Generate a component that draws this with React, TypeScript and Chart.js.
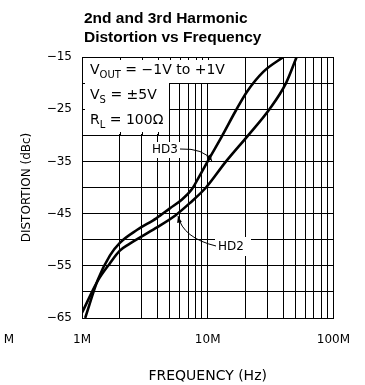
import { useEffect, useRef } from "react";
import { Chart, registerables } from "chart.js";

Chart.register(...registerables);

const TITLE_LINES = ["2nd and 3rd Harmonic", "Distortion vs Frequency"];
const X_TITLE = "FREQUENCY (Hz)";
const Y_TITLE = "DISTORTION (dBc)";

// HD3 series (frequency Hz, distortion dBc)
const HD3_FREQ = [1.06e6, 1.34e6, 1.67e6, 2e6, 2.75e6, 3.9e6, 5e6, 6.25e6, 7.5e6, 8.6e6, 10.2e6, 12.9e6, 16.8e6, 20.6e6, 27.8e6, 40e6];
const HD3_DB = [-65, -57.6, -53, -50.6, -48.1, -45.9, -44, -42.3, -40.3, -37.8, -34.6, -30.3, -25.2, -21.6, -17.8, -15];

// HD2 series
const HD2_FREQ = [1e6, 1.34e6, 1.67e6, 2e6, 2.32e6, 3.85e6, 5.56e6, 7.2e6, 9.7e6, 14e6, 21e6, 31e6, 42e6, 51e6];
const HD2_DB = [-64, -57.8, -54.5, -52.1, -51, -47.8, -45.3, -43, -40, -35, -30, -25, -20, -15];

const X_TICKS = [
  1e6, 2e6, 3e6, 4e6, 5e6, 6e6, 7e6, 8e6, 9e6,
  1e7, 2e7, 3e7, 4e7, 5e7, 6e7, 7e7, 8e7, 9e7,
  1e8,
];
const X_TICK_LABELS: Record<string, string> = { "1000000": "1M", "10000000": "10M", "100000000": "100M" };
const Y_TICK_LABELS: Record<string, string> = {
  "-15": "\u221215",
  "-25": "\u221225",
  "-35": "\u221235",
  "-45": "\u221245",
  "-55": "\u221255",
  "-65": "\u221265",
};

const COND_LINES: [string, string, string][] = [
  ["V", "OUT", " = \u22121V to +1V"],
  ["V", "S", " = \u00b15V"],
  ["R", "L", " = 100\u03a9"],
];

const FONT = "'DejaVu Sans', sans-serif";

const overlay = {
  id: "overlay",
  beforeDatasetsDraw(chart: any) {
    const { ctx, scales } = chart;
    const x = scales.x;
    const y = scales.y;
    const top = chart.chartArea.top;
    const left = x.getPixelForValue(1e6);
    ctx.save();
    ctx.fillStyle = "#ffffff";
    const y20 = Math.round(y.getPixelForValue(-20));
    const y30 = Math.round(y.getPixelForValue(-30));
    const x20M = Math.round(x.getPixelForValue(2e7));
    const x5M = Math.round(x.getPixelForValue(5e6));
    ctx.fillRect(left + 1, top + 1, x20M - left - 2, y20 - top - 1);
    ctx.fillRect(left + 1, y20 - 1, x5M - left - 2, y30 - y20);
    ctx.fillRect(150, 142, 31, 16);
    ctx.fillRect(215, 237, 36, 19);
    ctx.strokeStyle = "#000";
    ctx.lineWidth = 1;
    ctx.beginPath();
    [2e6, 3e6, 4e6, 5e6, 6e6, 7e6, 8e6, 9e6, 1e7].forEach((v) => {
      const px = Math.round(x.getPixelForValue(v)) + 0.5;
      ctx.moveTo(px, top);
      ctx.lineTo(px, top + 3);
    });
    [2e6, 3e6, 4e6].forEach((v) => {
      const px = Math.round(x.getPixelForValue(v)) + 0.5;
      ctx.moveTo(px, y30);
      ctx.lineTo(px, y30 - 3);
    });
    [-20, -25].forEach((v) => {
      const py = Math.round(y.getPixelForValue(v)) + 0.5;
      ctx.moveTo(left, py);
      ctx.lineTo(left + 3, py);
    });
    ctx.stroke();
    ctx.fillStyle = "#000";
    ctx.textBaseline = "alphabetic";
    ctx.textAlign = "left";
    const baselines = [74, 99, 124];
    COND_LINES.forEach(([main, sub, rest], i) => {
      let cx = 90;
      const by = baselines[i];
      ctx.font = `14px ${FONT}`;
      ctx.fillText(main, cx, by);
      cx += ctx.measureText(main).width;
      ctx.font = `10px ${FONT}`;
      ctx.fillText(sub, cx, by + 4);
      cx += ctx.measureText(sub).width;
      ctx.font = `14px ${FONT}`;
      ctx.fillText(rest, cx, by);
    });
    ctx.font = `12px ${FONT}`;
    ctx.textBaseline = "middle";
    ctx.fillText("HD3", 152, 150);
    ctx.fillText("HD2", 218, 247);
    const arrow = (sx: number, sy: number, cx1: number, cy1: number, ex: number, ey: number) => {
      ctx.beginPath();
      ctx.moveTo(sx, sy);
      ctx.quadraticCurveTo(cx1, cy1, ex, ey);
      ctx.stroke();
      const ang = Math.atan2(ey - cy1, ex - cx1);
      const len = 7;
      const wid = 0.35;
      ctx.beginPath();
      ctx.moveTo(ex, ey);
      ctx.lineTo(ex - len * Math.cos(ang - wid), ey - len * Math.sin(ang - wid));
      ctx.lineTo(ex - len * Math.cos(ang + wid), ey - len * Math.sin(ang + wid));
      ctx.closePath();
      ctx.fill();
    };
    ctx.lineWidth = 1;
    arrow(180, 149, 204, 148, 212, 161);
    arrow(216, 246, 183, 238, 178, 216);
    ctx.restore();
  },
  afterDraw(chart: any) {
    const { ctx } = chart;
    ctx.save();
    ctx.fillStyle = "#000";
    ctx.textAlign = "left";
    ctx.textBaseline = "alphabetic";
    ctx.font = `bold 15.5px 'Liberation Sans', Arial, sans-serif`;
    ctx.fillText(TITLE_LINES[0], 84, 23);
    ctx.fillText(TITLE_LINES[1], 84, 41.5);
    ctx.font = `12px ${FONT}`;
    ctx.textAlign = "center";
    ctx.textBaseline = "middle";
    ctx.fillText("M", 9, 340);
    ctx.restore();
  },
};

export default function App() {
  const ref = useRef<HTMLCanvasElement | null>(null);
  useEffect(() => {
    if (!ref.current) return;
    const chart = new Chart(ref.current, {
      type: "line",
      data: {
        datasets: [
          {
            label: "HD3",
            data: HD3_FREQ.map((f, i) => ({ x: f, y: HD3_DB[i] })),
            borderColor: "#000",
            borderWidth: 2.6,
            pointRadius: 0,
            cubicInterpolationMode: "monotone",
            fill: false,
          },
          {
            label: "HD2",
            data: HD2_FREQ.map((f, i) => ({ x: f, y: HD2_DB[i] })),
            borderColor: "#000",
            borderWidth: 2.6,
            pointRadius: 0,
            cubicInterpolationMode: "monotone",
            fill: false,
          },
        ],
      },
      options: {
        responsive: false,
        animation: false,
        events: [],
        layout: { padding: { top: 57, right: 20, left: 0, bottom: 0 } },
        plugins: {
          legend: { display: false },
          tooltip: { enabled: false },
          title: { display: false },
        },
        scales: {
          x: {
            type: "logarithmic",
            min: 1e6,
            max: 1e8,
            afterBuildTicks: (scale: any) => {
              scale.ticks = X_TICKS.map((v) => ({ value: v }));
            },
            afterFit: (scale: any) => {
              scale.height = 67;
            },
            grid: { color: "#000", lineWidth: 1, drawTicks: false },
            border: { display: true, color: "#000", width: 1 },
            ticks: {
              autoSkip: false,
              maxRotation: 0,
              padding: 15,
              color: "#000",
              font: { family: FONT, size: 12 },
              callback: (v: any) => X_TICK_LABELS[String(v)] ?? "",
            },
            title: {
              display: true,
              text: X_TITLE,
              color: "#000",
              font: { family: FONT, size: 14 },
              padding: { top: 0, bottom: 0 },
            },
          },
          y: {
            type: "linear",
            min: -65,
            max: -15,
            afterFit: (scale: any) => {
              scale.width = 82;
            },
            grid: { color: "#000", lineWidth: 1, drawTicks: false },
            border: { display: true, color: "#000", width: 1 },
            ticks: {
              stepSize: 5,
              autoSkip: false,
              padding: 10,
              color: "#000",
              font: { family: FONT, size: 12 },
              callback: (v: any) => Y_TICK_LABELS[String(v)] ?? "",
            },
            title: {
              display: true,
              text: Y_TITLE,
              color: "#000",
              font: { family: FONT, size: 12 },
              padding: { top: 20, bottom: 0 },
            },
          },
        },
      },
      plugins: [overlay],
    });
    return () => chart.destroy();
  }, []);
  return (
    <div style={{ position: "absolute", left: 0, top: 0, width: 365, height: 385 }}>
      <canvas ref={ref} width={365} height={385} style={{ display: "block" }} />
    </div>
  );
}
